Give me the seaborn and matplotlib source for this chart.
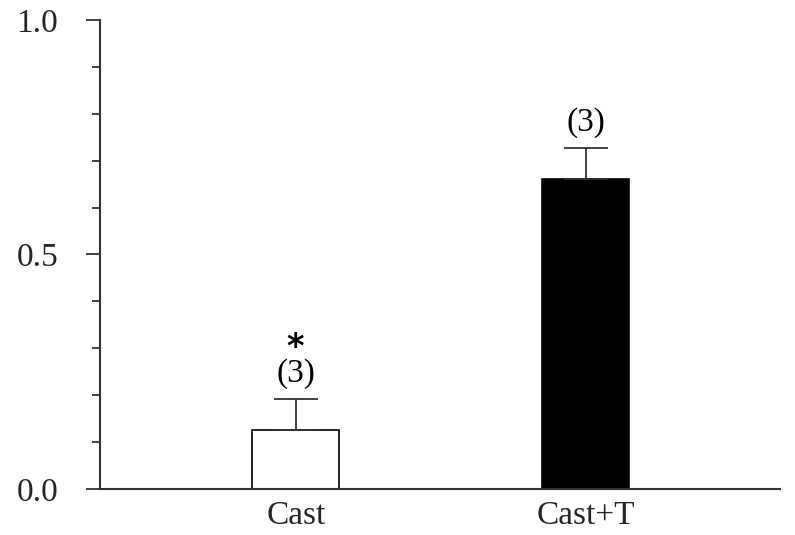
import matplotlib
matplotlib.use("Agg")
import matplotlib.pyplot as plt
from matplotlib.ticker import MultipleLocator
import seaborn as sns
import pandas as pd

groups = ["Cast", "Cast+T"]
means = [0.126, 0.661]
sems = [0.065, 0.066]
n_labels = ["(3)", "(3)"]
sig_marks = [r"$\mathbf{*}$", ""]
bar_colors = ["white", "black"]

sns.set_theme(style="white")
plt.rcParams["font.family"] = ["Liberation Serif", "DejaVu Serif"]
plt.rcParams["mathtext.fontset"] = "dejavusans"

df = pd.DataFrame({"group": groups, "mean": means})

fig = plt.figure(figsize=(7.95, 5.35), dpi=100)
ax = fig.add_axes([0.1258, 0.086, 0.855, 0.8766])

sns.barplot(data=df, x="group", y="mean", hue="group", palette=bar_colors,
            edgecolor="black", linewidth=1.2, width=0.30, legend=False,
            errorbar=None, ax=ax)

# upper-only error bars
ax.errorbar(range(len(groups)), means, yerr=[[0] * len(groups), sems],
            fmt="none", ecolor="#333333", elinewidth=1.3, capsize=16,
            capthick=1.3)

# n per group, with the significance mark stacked above it
for i, (m, s, n, sig) in enumerate(zip(means, sems, n_labels, sig_marks)):
    label = f"{sig}\n{n}" if sig else n
    ax.text(i, m + s + 0.022, label, ha="center", va="bottom", fontsize=24,
            linespacing=0.85, color="black")

ax.set_ylim(0, 1.0)
ax.set_xlim(-0.676, 1.67)
ax.yaxis.set_major_locator(MultipleLocator(0.5))
ax.yaxis.set_minor_locator(MultipleLocator(0.1))
ax.yaxis.set_major_formatter(plt.FuncFormatter(lambda v, p: f"{v:.1f}"))
ax.tick_params(axis="y", which="major", direction="out", length=10,
               width=1.3, color="#333333", labelsize=24, pad=20, left=True)
ax.tick_params(axis="y", which="minor", direction="out", length=6,
               width=1.3, color="#333333", left=True)
ax.tick_params(axis="x", length=0, labelsize=24, pad=8)
ax.set_xlabel("")
ax.set_ylabel("")

for side in ["top", "right"]:
    ax.spines[side].set_visible(False)
for side in ["left", "bottom"]:
    ax.spines[side].set_color("#333333")
    ax.spines[side].set_linewidth(1.5)

fig.savefig("out.png", dpi=100)
